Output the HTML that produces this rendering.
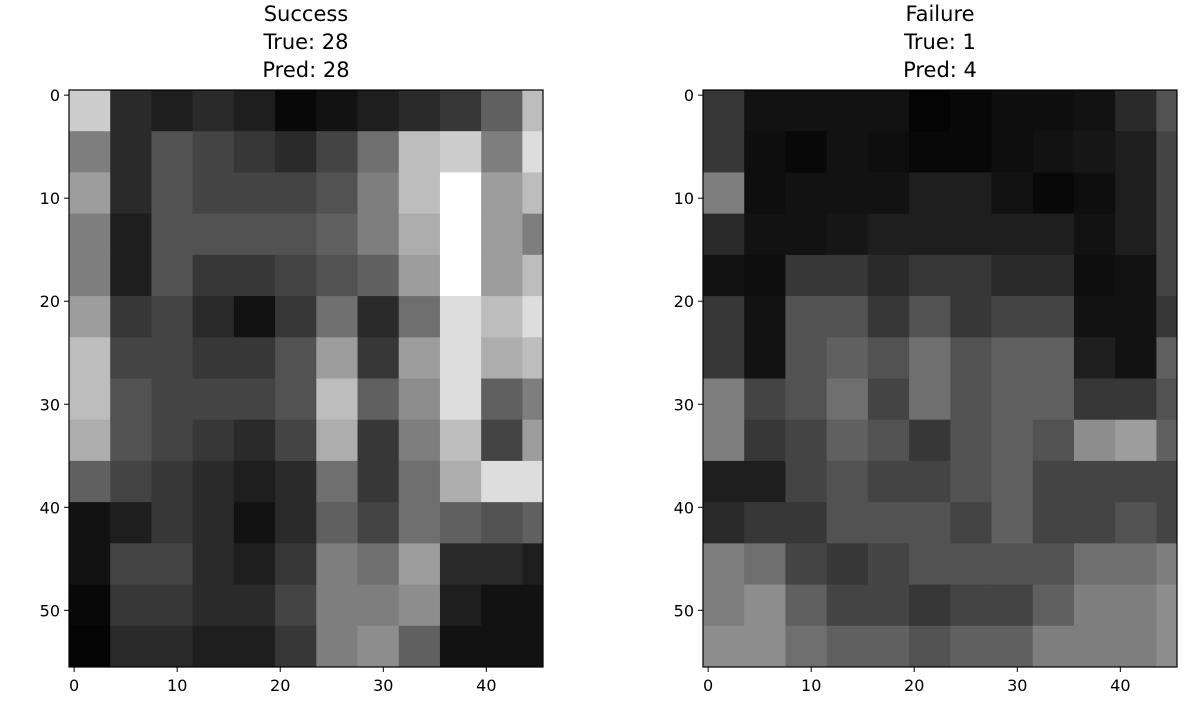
<!DOCTYPE html>
<html><head><meta charset="utf-8"><style>
body{margin:0;background:#fff;}
svg text{font-family:"DejaVu Sans","Liberation Sans",sans-serif;fill:#000;}
</style></head><body>
<svg id="fig" width="1194" height="721" viewBox="0 0 1194 721" xmlns="http://www.w3.org/2000/svg"></svg>
<script>
// Coarse 4x4-pixel block gray levels (0=black, 9=white), 14 rows x 12 cols
const successGrid = [
[7.5,2,1.5,2,1.5,0.5,1,1.5,2,2.5,4,7],
[5,2,3.5,3,2.5,2,3,4.5,7,7.5,5,8],
[6,2,3.5,3,3,3,3.5,5,7,9,6,7],
[5,1.5,3.5,3.5,3.5,3.5,4,5,6.5,9,6,5],
[5,1.5,3.5,2.5,2.5,3,3.5,4,6,9,6,7],
[6,2.5,3,2,1,2.5,4.5,2,4.5,8,7,8],
[7,3,3,2.5,2.5,3.5,6,2.5,6,8,6.5,7],
[7,3.5,3,3,3,3.5,7,4,5.5,8,4,5],
[6.5,3.5,3,2.5,2,3,6.5,2.5,5,7,3,6],
[4,3,2.5,2,1.5,2,4.5,2.5,4.5,6.5,8,8],
[1,1.5,2.5,2,1,2,4,3,4.5,4,3.5,4],
[1,3,3,2,1.5,2.5,5,4.5,6,2,2,1.5],
[0.5,2.5,2.5,2,2,3,5,5,5.5,1.5,1,1],
[0.3,2,2,1.5,1.5,2.5,5,5.5,4,1,1,1]
];
const failureGrid = [
[2.5,1,1,1,1,0.3,0.5,0.8,0.8,1,2,3.5],
[2.5,0.8,0.5,1,0.8,0.5,0.5,0.8,1,1.2,1.5,3],
[5,0.8,1,1,1,1.5,1.5,1,0.5,0.8,1.5,3],
[2,1,1,1.2,1.5,1.5,1.5,1.5,1.5,1,1.5,3],
[1,0.8,2.5,2.5,2,2.5,2.5,2,2,0.8,1,3],
[2.5,1,3.5,3.5,2.5,3.5,2.5,3,3,1,1,2.5],
[2.5,1,3.5,4,3.5,4.5,3.5,4,4,1.5,1,4],
[5,3,3.5,4.5,3,4.5,3.5,4,4,2.5,2.5,3.5],
[5,2.5,3,4,3.5,2.5,3.5,4,3.5,5.5,6,4],
[1.5,1.5,3,3.5,3,3,3.5,4,3,3,3,3],
[2,2.5,2.5,3.5,3.5,3.5,3,4,3,3,3.5,3],
[5,4.5,3,2.5,3,3.5,3.5,3.5,3.5,4.5,4.5,5],
[5,5.5,4,3,3,2.5,3,3,4,5,5,5.5],
[5.5,5.5,4.5,4,4,3.5,4,4,5,5,5,5.5]
];
const titles = [["Success","True: 28","Pred: 28"],["Failure","True: 1","Pred: 4"]];
const xTicks = [0,10,20,30,40];
const yTicks = [0,10,20,30,40,50];
const IMG_W = 46, IMG_H = 56, BLOCK = 4;

const NS = "http://www.w3.org/2000/svg";
const svg = document.getElementById('fig');
function mk(tag, attrs, parent){const e=document.createElementNS(NS,tag);for(const k in attrs)e.setAttribute(k,attrs[k]);(parent||svg).appendChild(e);return e;}

const panels = [{grid:successGrid,left:69,name:'success'},{grid:failureGrid,left:703,name:'failure'}];
const AX_TOP=90, AX_BOTTOM=667, AX_W=474;
panels.forEach((p,pi)=>{
  const g = mk('g',{});
  
  
  const sx = d => p.left + (d+0.5)/IMG_W*AX_W;
  const sy = d => AX_TOP + (d+0.5)/IMG_H*(AX_BOTTOM-AX_TOP);
  p.grid.forEach((row,r)=>{
    row.forEach((v,c)=>{
      const x0=c*BLOCK-0.5, x1=Math.min(c*BLOCK+BLOCK-0.5, IMG_W-0.5);
      const y0=r*BLOCK-0.5, y1=Math.min(r*BLOCK+BLOCK-0.5, IMG_H-0.5);
      const gv=Math.round(Math.pow(v/9,1.2)*255);
      const rc=mk('rect',{x:sx(x0),y:sy(y0),width:sx(x1)-sx(x0)+0.5,height:sy(y1)-sy(y0)+0.5,fill:`rgb(${gv},${gv},${gv})`},g);
      
      
    });
  });
  const fr=mk('rect',{x:p.left,y:AX_TOP,width:AX_W,height:AX_BOTTOM-AX_TOP,fill:'none',stroke:'#000','stroke-width':1.2},g);
  
  
  xTicks.forEach(t=>{
    const x=sx(t);
    mk('line',{x1:x,x2:x,y1:AX_BOTTOM,y2:AX_BOTTOM+5,stroke:'#000','stroke-width':1},g);
    const tx=mk('text',{x:x,y:AX_BOTTOM+24,'font-size':16,'text-anchor':'middle'},g);
    tx.textContent=t;
    
    
  });
  yTicks.forEach(t=>{
    const y=sy(t);
    mk('line',{x1:p.left,x2:p.left-5,y1:y,y2:y,stroke:'#000','stroke-width':1},g);
    const tx=mk('text',{x:p.left-9,y:y+6,'font-size':16,'text-anchor':'end'},g);
    tx.textContent=t;
    
    
  });
  titles[pi].forEach((s,i)=>{
    const tx=mk('text',{x:p.left+AX_W/2,y:21+i*28,'font-size':21,'text-anchor':'middle'},g);
    tx.textContent=s;
    
    
  });
});
</script>
</body></html>
